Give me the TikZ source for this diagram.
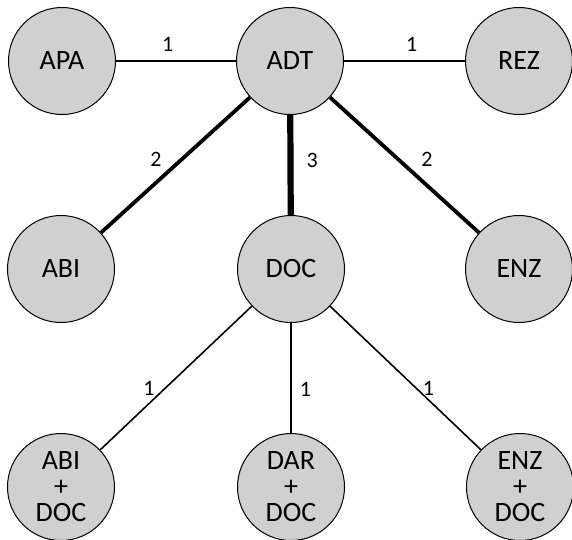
\documentclass[tikz,border=0pt]{standalone}
\usepackage{fontspec}
\setmainfont{Carlito}
\definecolor{entgray}{RGB}{208,208,208}
\begin{document}
\begin{tikzpicture}[x=1pt, y=-1pt, line join=round, line cap=round,
    ent/.style={circle, draw, line width=1pt, fill=entgray, minimum size=107pt, inner sep=0pt, align=center, font=\fontsize{28}{26}\selectfont},
    wt/.style={font=\fontsize{22}{24}\selectfont, inner sep=0pt},
    rel1/.style={line width=1.6pt, line cap=butt},
    rel2/.style={line width=3.8pt, line cap=butt},
    rel3/.style={line width=6.2pt, line cap=butt}]
    \useasboundingbox (0,0) rectangle (572,539);
    % entities
    \node[ent] (apa) at (62,61) {APA};
    \node[ent] (adt) at (290,61) {ADT};
    \node[ent] (rez) at (519,61) {REZ};
    \node[ent] (abi) at (61,269) {ABI};
    \node[ent] (doc) at (291,269) {DOC};
    \node[ent] (enz) at (519,269) {ENZ};
    \node[ent] (abidoc) at (61,487) {ABI\\+\\DOC};
    \node[ent] (dardoc) at (291,487) {DAR\\+\\DOC};
    \node[ent] (enzdoc) at (520,487) {ENZ\\+\\DOC};
    % relations
    \draw[rel1] (apa) -- node[wt, pos=0.43, above=9pt] {1} (adt);
    \draw[rel1] (adt) -- node[wt, pos=0.56, above=9pt] {1} (rez);
    \draw[rel2] (adt) -- node[wt, pos=0.46, left=18pt] {2} (abi);
    \draw[rel3] (adt) -- node[wt, pos=0.45, right=13pt] {3} (doc);
    \draw[rel2] (adt) -- node[wt, pos=0.46, right=21pt] {2} (enz);
    \draw[rel1] (doc) -- node[wt, pos=0.57, left=10pt] {1} (abidoc);
    \draw[rel1] (doc) -- node[wt, pos=0.6, right=8pt] {1} (dardoc);
    \draw[rel1] (doc) -- node[wt, pos=0.57, right=6pt] {1} (enzdoc);
\end{tikzpicture}
\end{document}
